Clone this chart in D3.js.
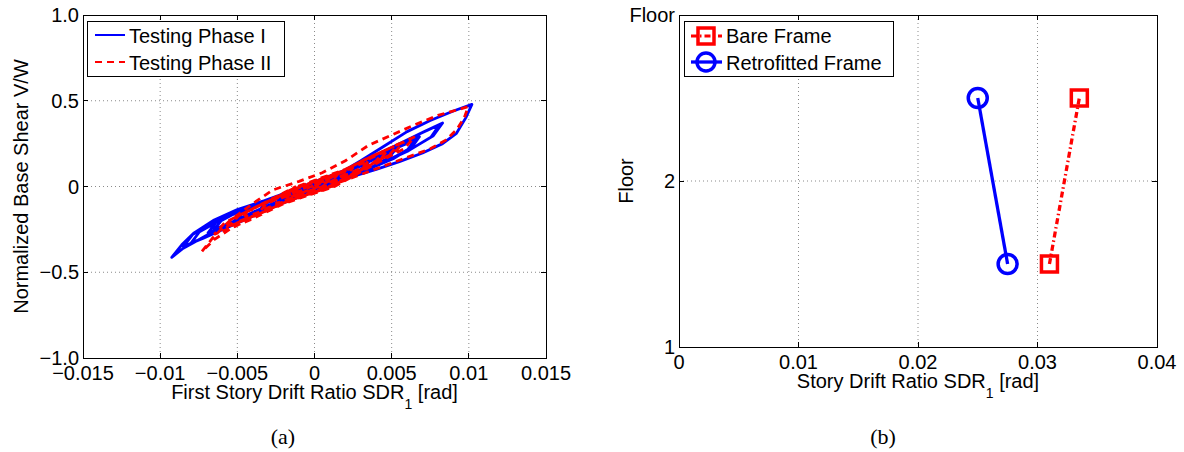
<!doctype html>
<html lang="en">
<head>
<meta charset="UTF-8">
<title>Drift ratio</title>
<script src="https://d3js.org/d3.v7.min.js"></script>
<style>
  body { margin: 0; background: #fff; }
  text { font-family: 'Liberation Sans', Arial, Helvetica, sans-serif; fill: #000; }
  .grid line { stroke: #8a8a8a; stroke-width: 1; stroke-dasharray: 1,3; }
  .frame { fill: none; stroke: #000; stroke-width: 1; shape-rendering: crispEdges; }
  .tick-mark { stroke: #000; stroke-width: 1; shape-rendering: crispEdges; }
  .panel-label { font-family: 'Liberation Serif', 'Times New Roman', serif; font-size: 22px; }
</style>
</head>
<body>
<script>
// ---- panel (a): hysteresis, drift ratio [rad] vs normalized base shear
const driftTicksA = [-0.015, -0.01, -0.005, 0, 0.005, 0.01, 0.015];
const driftLabelsA = ["\u22120.015", "\u22120.01", "\u22120.005", "0", "0.005", "0.01", "0.015"];
const shearTicks = [-1, -0.5, 0, 0.5, 1];
const shearLabels = ["\u22121.0", "\u22120.5", "0", "0.5", "1.0"];

// Testing Phase I (cycle by cycle)
const phase1 = [
  [0,0],[0.0005,0.02],[0.0009,0.037],[0.0013,0.052],[0.0015,0.06],[0.0014,0.048],[0.0011,0.035],[0.0007,0.018],[0.00015,0],
  [-0.0005,-0.019],[-0.0009,-0.037],[-0.0013,-0.052],[-0.0015,-0.06],[-0.0014,-0.048],[-0.0011,-0.035],[-0.0007,-0.018],[-0.00015,0],
  [0.00075,0.03],[0.0015,0.062],[0.0021,0.086],[0.0025,0.1],[0.0023,0.08],[0.0019,0.058],[0.0011,0.03],[0.00025,0],
  [-0.00075,-0.032],[-0.0015,-0.062],[-0.0021,-0.086],[-0.0025,-0.1],[-0.0023,-0.08],[-0.0019,-0.058],[-0.0011,-0.03],[-0.00025,0],
  [0.00105,0.045],[0.0021,0.087],[0.003,0.12],[0.0035,0.14],[0.00325,0.112],[0.0026,0.081],[0.0016,0.042],[0.00035,0],
  [-0.00105,-0.042],[-0.0021,-0.081],[-0.003,-0.112],[-0.0035,-0.13],[-0.00325,-0.104],[-0.0026,-0.075],[-0.0016,-0.039],[-0.00035,0],
  [0.0015,0.062],[0.003,0.124],[0.00425,0.172],[0.005,0.2],[0.00465,0.16],[0.00375,0.116],[0.00225,0.06],[0.0005,0],
  [-0.0015,-0.061],[-0.003,-0.118],[-0.00425,-0.163],[-0.005,-0.19],[-0.00465,-0.152],[-0.00375,-0.11],[-0.00225,-0.057],[-0.0005,0],
  [0.0016,0.068],[0.0032,0.135],[0.0045,0.185],[0.0052,0.21],[0.0048,0.165],[0.0038,0.117],[0.0022,0.058],[0.0005,0],
  [-0.0016,-0.064],[-0.0032,-0.125],[-0.0045,-0.172],[-0.0052,-0.2],[-0.0048,-0.158],[-0.0038,-0.112],[-0.0022,-0.056],[-0.0005,0],
  [0.00195,0.085],[0.0039,0.167],[0.0055,0.232],[0.0065,0.27],[0.00605,0.216],[0.0049,0.157],[0.0029,0.081],[0.00065,0],
  [-0.00195,-0.08],[-0.0039,-0.155],[-0.0055,-0.215],[-0.0065,-0.25],[-0.00605,-0.2],[-0.0049,-0.145],[-0.0029,-0.075],[-0.00065,0],
  [0.002,0.09],[0.0041,0.18],[0.0058,0.25],[0.0068,0.29],[0.0063,0.228],[0.0051,0.162],[0.003,0.082],[0.0007,0],
  [-0.0021,-0.087],[-0.0042,-0.168],[-0.0059,-0.232],[-0.0069,-0.27],[-0.0064,-0.212],[-0.0052,-0.152],[-0.0031,-0.078],[-0.0007,0],
  [0.0024,0.11],[0.0049,0.223],[0.0069,0.31],[0.0081,0.36],[0.00755,0.288],[0.0061,0.209],[0.00365,0.108],[0.0008,0],
  [-0.0024,-0.106],[-0.0048,-0.205],[-0.0068,-0.284],[-0.008,-0.33],[-0.00745,-0.264],[-0.006,-0.191],[-0.0036,-0.099],[-0.0008,0],
  [0.0025,0.112],[0.005,0.228],[0.00705,0.318],[0.0083,0.37],[0.0077,0.296],[0.0062,0.215],[0.0037,0.111],[0.0008,0],
  [-0.0025,-0.112],[-0.0051,-0.217],[-0.0072,-0.301],[-0.0085,-0.35],[-0.0079,-0.28],[-0.0064,-0.203],[-0.0038,-0.105],[-0.00085,0],
  [0.0015,0.07],[0.003,0.15],[0.0045,0.235],[0.006,0.32],[0.0075,0.385],[0.009,0.44],[0.0102,0.479],
  [0.0098,0.4],[0.0092,0.31],[0.0083,0.25],[0.007,0.195],[0.0055,0.145],[0.004,0.1],[0.002,0.045],[0,-0.012],
  [-0.002,-0.072],[-0.004,-0.15],[-0.006,-0.235],[-0.0075,-0.31],[-0.0085,-0.36],[-0.00925,-0.413],
  [-0.0086,-0.34],[-0.0078,-0.27],[-0.0065,-0.195],[-0.005,-0.135],[-0.0035,-0.09],[-0.002,-0.05],[0,0]
];

// Testing Phase II
const phase2 = [
  [0,0],[0.0005,0.025],[0.001,0.048],[0.0015,0.07],[0.0013,0.05],[0.0009,0.03],[0.0003,0],
  [-0.0005,-0.025],[-0.001,-0.045],[-0.0015,-0.06],[-0.0013,-0.042],[-0.0008,-0.022],[-0.0002,0],
  [0.0008,0.04],[0.0016,0.075],[0.0025,0.11],[0.0022,0.08],[0.0015,0.05],[0.0005,0],
  [-0.0008,-0.04],[-0.0016,-0.07],[-0.0025,-0.1],[-0.0022,-0.07],[-0.0014,-0.04],[-0.0004,0],
  [0.0011,0.055],[0.0023,0.105],[0.0035,0.15],[0.0031,0.11],[0.0021,0.07],[0.0007,0],
  [-0.0011,-0.055],[-0.0023,-0.1],[-0.0035,-0.14],[-0.0031,-0.1],[-0.002,-0.055],[-0.0006,0],
  [0.0014,0.07],[0.003,0.14],[0.0045,0.2],[0.004,0.15],[0.0027,0.09],[0.0009,0],
  [-0.0014,-0.07],[-0.003,-0.13],[-0.0045,-0.18],[-0.004,-0.13],[-0.0026,-0.075],[-0.0008,0],
  [0.0015,0.075],[0.0032,0.155],[0.0048,0.22],[0.0043,0.16],[0.0029,0.095],[0.001,0],
  [-0.0015,-0.075],[-0.0032,-0.145],[-0.0048,-0.2],[-0.0043,-0.14],[-0.0028,-0.08],[-0.0009,0],
  [0.0017,0.085],[0.0036,0.17],[0.0055,0.25],[0.0049,0.19],[0.0033,0.11],[0.0011,0],
  [-0.0017,-0.085],[-0.0036,-0.16],[-0.0055,-0.23],[-0.0049,-0.17],[-0.0032,-0.095],[-0.001,0],
  [0.0018,0.09],[0.0038,0.18],[0.0058,0.26],[0.0052,0.2],[0.0035,0.115],[0.0012,0],
  [-0.0018,-0.09],[-0.0037,-0.165],[-0.0057,-0.24],[-0.0051,-0.178],[-0.0033,-0.1],[-0.0011,0],
  [0.002,0.1],[0.0043,0.2],[0.0065,0.29],[0.0058,0.22],[0.0039,0.13],[0.0013,0],
  [-0.002,-0.1],[-0.0043,-0.2],[-0.0065,-0.28],[-0.0058,-0.21],[-0.0038,-0.12],[-0.0012,0],
  [-0.002,-0.09],[-0.004,-0.18],[-0.0055,-0.25],[-0.0065,-0.31],[-0.0073,-0.38],
  [-0.0066,-0.3],[-0.0055,-0.2],[-0.004,-0.1],[-0.0027,-0.02],[-0.001,0.03],[0.0005,0.08],
  [0.002,0.15],[0.0035,0.24],[0.005,0.3],[0.0065,0.36],[0.008,0.415],[0.00996,0.465],
  [0.0097,0.4],[0.0092,0.33],[0.0085,0.27],[0.0075,0.22],[0.006,0.17],[0.0045,0.12],[0.003,0.07],[0.0015,0.02],[0,-0.03]
];

// ---- panel (b): peak story drift per floor
const driftTicksB = [0, 0.01, 0.02, 0.03, 0.04];
const driftLabelsB = ["0", "0.01", "0.02", "0.03", "0.04"];
const floorTicks = [1, 2, 3];
const floorLabels = ["1", "2", "Floor"];
const storyLevels = [1.5, 2.5];
const bareFrame = [0.031, 0.0335];
const retrofittedFrame = [0.0275, 0.025];

const width = 1184, height = 452;
const blue = "#0000ff", red = "#ff0000";

const svg = d3.select("body").append("svg")
  .attr("width", width)
  .attr("height", height);

svg.append("rect").attr("width", width).attr("height", height).attr("fill", "#fff");

// generic matlab-style box with inward ticks and dotted grid
function drawAxes(g, x, y, xt, xl, yt, yl) {
  const [x0, x1] = x.range(), [y0, y1] = y.range();  // y0 bottom, y1 top
  const grid = g.append("g").attr("class", "grid");
  grid.selectAll(".gx").data(xt.filter(v => x(v) > x0 + 1 && x(v) < x1 - 1)).enter().append("line")
    .attr("x1", d => x(d)).attr("x2", d => x(d)).attr("y1", y1).attr("y2", y0);
  grid.selectAll(".gy").data(yt.filter(v => y(v) < y0 - 1 && y(v) > y1 + 1)).enter().append("line")
    .attr("y1", d => y(d)).attr("y2", d => y(d)).attr("x1", x0).attr("x2", x1);

  const tk = 5;
  xt.forEach(v => {
    g.append("line").attr("class", "tick-mark").attr("x1", x(v)).attr("x2", x(v)).attr("y1", y0).attr("y2", y0 - tk);
    g.append("line").attr("class", "tick-mark").attr("x1", x(v)).attr("x2", x(v)).attr("y1", y1).attr("y2", y1 + tk);
  });
  yt.forEach(v => {
    g.append("line").attr("class", "tick-mark").attr("y1", y(v)).attr("y2", y(v)).attr("x1", x0).attr("x2", x0 + tk);
    g.append("line").attr("class", "tick-mark").attr("y1", y(v)).attr("y2", y(v)).attr("x1", x1).attr("x2", x1 - tk);
  });

  g.append("rect").attr("class", "frame")
    .attr("x", x0 + 0.5).attr("y", y1 + 0.5)
    .attr("width", x1 - x0).attr("height", y0 - y1);

  g.selectAll(".xl").data(xt).enter().append("text")
    .attr("x", d => x(d)).attr("y", y0 + 22)
    .attr("text-anchor", "middle").attr("font-size", 20)
    .text((d, i) => xl[i]);
  g.selectAll(".yl").data(yt).enter().append("text")
    .attr("x", x0 - 4).attr("y", d => y(d) + 7)
    .attr("text-anchor", "end").attr("font-size", 20)
    .text((d, i) => yl[i]);
}

function xLabel(g, cx, by, main) {
  const t = g.append("text").attr("x", cx).attr("y", by)
    .attr("text-anchor", "middle").attr("font-size", 20);
  t.append("tspan").text(main);
  t.append("tspan").attr("font-size", 14).attr("dy", 10).text("1");
  t.append("tspan").attr("dy", -10).text(" [rad]");
}

// ---------- (a)
const xA = d3.scaleLinear().domain([-0.015, 0.015]).range([83, 546]);
const yA = d3.scaleLinear().domain([-1, 1]).range([358, 15]);
const gA = svg.append("g");
drawAxes(gA, xA, yA, driftTicksA, driftLabelsA, shearTicks, shearLabels);

const lineA = d3.line().x(d => xA(d[0])).y(d => yA(d[1]));
gA.append("path").datum(phase1)
  .attr("d", lineA).attr("fill", "none")
  .attr("stroke", blue).attr("stroke-width", 2.8).attr("stroke-linejoin", "round");
gA.append("path").datum(phase2)
  .attr("d", lineA).attr("fill", "none")
  .attr("stroke", red).attr("stroke-width", 2.8).attr("stroke-dasharray", "7,5");

xLabel(gA, 314.5, 399, "First Story Drift Ratio SDR");
gA.append("text")
  .attr("transform", "translate(28,186.5) rotate(-90)")
  .attr("text-anchor", "middle").attr("font-size", 20)
  .text("Normalized Base Shear V/W");

// legend (a)
const legA = gA.append("g");
legA.append("rect").attr("x", 87.5).attr("y", 21.5).attr("width", 197).attr("height", 55)
  .attr("fill", "#fff").attr("stroke", "#000").attr("stroke-width", 1);
legA.append("line").attr("x1", 95).attr("x2", 125).attr("y1", 35).attr("y2", 35)
  .attr("stroke", blue).attr("stroke-width", 2);
legA.append("line").attr("x1", 95).attr("x2", 125).attr("y1", 62).attr("y2", 62)
  .attr("stroke", red).attr("stroke-width", 2).attr("stroke-dasharray", "7,5");
legA.append("text").attr("x", 129).attr("y", 42.5).attr("font-size", 20).text("Testing Phase I");
legA.append("text").attr("x", 129).attr("y", 69.5).attr("font-size", 20).text("Testing Phase II");

svg.append("text").attr("class", "panel-label").attr("x", 283).attr("y", 444)
  .attr("text-anchor", "middle").text("(a)");

// ---------- (b)
const xB = d3.scaleLinear().domain([0, 0.04]).range([679, 1157]);
const yB = d3.scaleLinear().domain([1, 3]).range([347, 15]);
const gB = svg.append("g");
drawAxes(gB, xB, yB, driftTicksB, driftLabelsB, floorTicks, floorLabels);

const bare = storyLevels.map((f, i) => [bareFrame[i], f]);
const retro = storyLevels.map((f, i) => [retrofittedFrame[i], f]);
const lineB = d3.line().x(d => xB(d[0])).y(d => yB(d[1]));

gB.append("path").datum(retro).attr("d", lineB).attr("fill", "none")
  .attr("stroke", blue).attr("stroke-width", 3.3);
gB.append("path").datum(bare).attr("d", lineB).attr("fill", "none")
  .attr("stroke", red).attr("stroke-width", 3.3).attr("stroke-dasharray", "6,3,1.5,3");

gB.selectAll(".ret").data(retro).enter().append("circle")
  .attr("cx", d => xB(d[0])).attr("cy", d => yB(d[1])).attr("r", 9.5)
  .attr("fill", "none").attr("stroke", blue).attr("stroke-width", 3.5);
gB.selectAll(".bar").data(bare).enter().append("rect")
  .attr("x", d => xB(d[0]) - 8).attr("y", d => yB(d[1]) - 8)
  .attr("width", 16).attr("height", 16)
  .attr("fill", "none").attr("stroke", red).attr("stroke-width", 3.5);

xLabel(gB, 918, 388, "Story Drift Ratio SDR");
gB.append("text")
  .attr("transform", "translate(633,181) rotate(-90)")
  .attr("text-anchor", "middle").attr("font-size", 20)
  .text("Floor");

// legend (b)
const legB = gB.append("g");
legB.append("rect").attr("x", 684.5).attr("y", 21.5).attr("width", 209).attr("height", 55)
  .attr("fill", "#fff").attr("stroke", "#000").attr("stroke-width", 1);
legB.append("line").attr("x1", 691).attr("x2", 722).attr("y1", 36).attr("y2", 36)
  .attr("stroke", red).attr("stroke-width", 3).attr("stroke-dasharray", "6,3,1.5,3");
legB.append("rect").attr("x", 698).attr("y", 28).attr("width", 16).attr("height", 16)
  .attr("fill", "none").attr("stroke", red).attr("stroke-width", 3.5);
legB.append("line").attr("x1", 691).attr("x2", 722).attr("y1", 62).attr("y2", 62)
  .attr("stroke", blue).attr("stroke-width", 3.3);
legB.append("circle").attr("cx", 706).attr("cy", 62).attr("r", 9)
  .attr("fill", "none").attr("stroke", blue).attr("stroke-width", 3.5);
legB.append("text").attr("x", 726).attr("y", 43).attr("font-size", 20).text("Bare Frame");
legB.append("text").attr("x", 726).attr("y", 69.5).attr("font-size", 20).text("Retrofitted Frame");

svg.append("text").attr("class", "panel-label").attr("x", 883).attr("y", 444)
  .attr("text-anchor", "middle").text("(b)");
</script>
</body>
</html>
